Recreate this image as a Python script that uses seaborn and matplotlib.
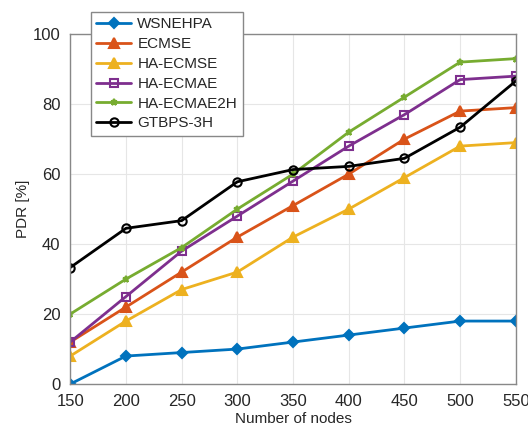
import matplotlib
matplotlib.use("Agg")
import matplotlib.pyplot as plt
import seaborn as sns
import pandas as pd

nodes = [150, 200, 250, 300, 350, 400, 450, 500, 550]
wsnehpa = [0, 8, 9, 10, 12, 14, 16, 18, 18]
ecmse = [12, 22, 32, 42, 51, 60, 70, 78, 79]
ha_ecmse = [8, 18, 27, 32, 42, 50, 59, 68, 69]
ha_ecmae = [12, 25, 38, 48, 58, 68, 77, 87, 88]
ha_ecmae2h = [20, 30, 39, 50, 60, 72, 82, 92, 93]
gtbps_3h = [33.3, 44.5, 46.7, 57.8, 61.3, 62.2, 64.5, 73.4, 86.6]

series = [
    ("WSNEHPA", wsnehpa, "#0072BD", "D", True, 5.5),
    ("ECMSE", ecmse, "#D95319", "^", True, 7),
    ("HA-ECMSE", ha_ecmse, "#EDB120", "^", True, 7),
    ("HA-ECMAE", ha_ecmae, "#7E2F8E", "s", False, 6),
    ("HA-ECMAE2H", ha_ecmae2h, "#77AC30", "*", True, 4.5),
    ("GTBPS-3H", gtbps_3h, "black", "o", False, 6),
]

sns.set_style("whitegrid")
plt.rcParams["font.family"] = ["Liberation Sans", "DejaVu Sans"]

fig = plt.figure(figsize=(5.28, 4.32), dpi=100)
ax = fig.add_axes([0.133, 0.111, 0.844, 0.81])

for name, vals, color, marker, filled, ms in series:
    df = pd.DataFrame({"nodes": nodes, "pdr": vals})
    sns.lineplot(data=df, x="nodes", y="pdr", ax=ax, color=color, marker=marker,
                 markersize=ms, linewidth=2, label=name,
                 markerfacecolor=color if filled else "none",
                 markeredgecolor=color, markeredgewidth=1.5)

ax.set_xlim(150, 550)
ax.set_ylim(0, 100)
ax.set_xticks(nodes)
ax.set_yticks(range(0, 101, 20))
ax.tick_params(labelsize=12, colors="#262626", length=3, direction="in", pad=7)
ax.set_xlabel("Number of nodes", fontsize=11, labelpad=2)
ax.set_ylabel("PDR [%]", fontsize=11, labelpad=2)
ax.grid(True, color="#e6e6e6", linewidth=0.8)
for s in ax.spines.values():
    s.set_color("#888888")
    s.set_linewidth(1)

leg = ax.legend(loc="upper left", bbox_to_anchor=(0.172, 0.972), bbox_transform=fig.transFigure,
                frameon=True, fontsize=11, handlelength=2.3, borderaxespad=0,
                labelspacing=0.38, handletextpad=0.4, borderpad=0.35, fancybox=False)
leg.get_frame().set_edgecolor("#888888")
leg.get_frame().set_alpha(1)

plt.savefig("out.png", dpi=100)
